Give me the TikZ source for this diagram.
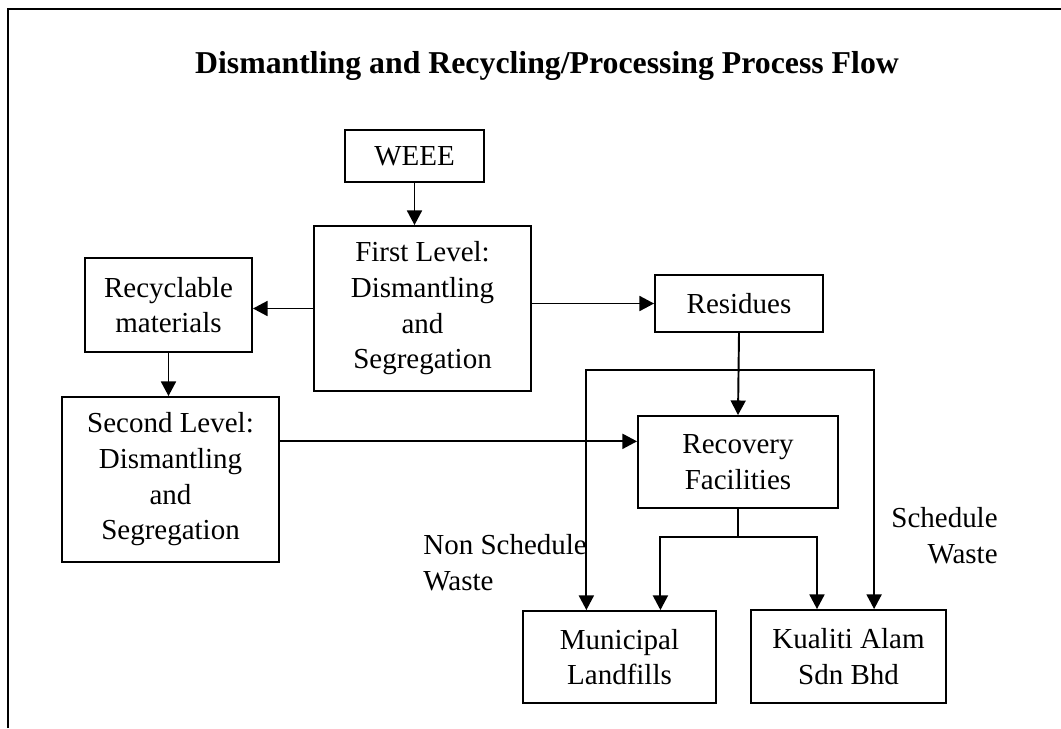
\documentclass[tikz,border=0pt]{standalone}
\usepackage{fontspec}
\setmainfont{Liberation Serif}
\usepackage{tikz}
\usetikzlibrary{arrows.meta,positioning,calc}
\tikzset{
  base/.style={font=\fontsize{16.5}{20.3}\selectfont, align=center, inner sep=0pt, text=black},
  box/.style={base, rectangle, draw=black, line width=1.1pt},
  lbl/.style={base, inner sep=0pt},
  ttl/.style={font=\bfseries\fontsize{18.1}{21}\selectfont, inner sep=0pt},
  arr/.style={-{Triangle[length=8.3pt,width=8.5pt]}, line width=1.1pt, draw=black},
  ln/.style={line width=1.1pt, draw=black},
}

\begin{document}
\begin{tikzpicture}[x=0.02cm,y=-0.02cm]
  \useasboundingbox (0,0) rectangle (1061,728);
  \draw[ln] (8,728) -- (8,9) -- (1061,9);
  \node[ttl,anchor=base] (title) at (547,73) {Dismantling and Recycling/Processing Process Flow};
  \node[box,minimum width=2.78cm,minimum height=1.04cm] (weee) at (414.5,156) {WEEE};
  \node[box,minimum width=4.34cm,minimum height=3.30cm] (first) at (422.5,308.5) {First Level:\\Dismantling\\and\\Segregation};
  \node[box,minimum width=3.34cm,minimum height=1.88cm] (recyc) at (168.5,305) {Recyclable\\materials};
  \node[box,minimum width=4.34cm,minimum height=3.30cm] (second) at (170.5,479.5) {Second Level:\\Dismantling\\and\\Segregation};
  \node[box,minimum width=3.36cm,minimum height=1.14cm] (resid) at (739,303.5) {Residues};
  \node[box,minimum width=4.00cm,minimum height=1.84cm] (recov) at (738,462) {Recovery\\Facilities};
  \node[box,minimum width=3.86cm,minimum height=1.84cm] (munic) at (619.5,657) {Municipal\\Landfills};
  \node[box,minimum width=3.90cm,minimum height=1.86cm] (kual) at (848.5,656.5) {Kualiti Alam\\Sdn Bhd};
  \node[lbl,anchor=north west,align=left] (nsw) at (423,534) {Non Schedule\\Waste};
  \node[lbl,anchor=north east,align=right] (sw) at (998,507) {Schedule\\Waste};
  \draw[arr] (weee.south) -- (weee.south |- first.north);
  \draw[arr] (first.west) -- (first.west -| recyc.east);
  \draw[arr] (recyc.south) -- (recyc.south |- second.north);
  \draw[arr] (resid.west -| first.east) -- (resid.west);
  \draw[arr] (resid.south) -- (recov.north);
  \coordinate (recin) at ($(recov.north west)!0.28!(recov.south west)$);
  \draw[arr] (second.east |- recin) -- (recin);
  \coordinate (split) at ($(resid.south)!0.45!(recov.north)$);
  \coordinate (mtopa) at ($(munic.north west)!0.33!(munic.north east)$);
  \coordinate (ktopb) at ($(kual.north west)!0.63!(kual.north east)$);
  \draw[arr] (split) -| (mtopa);
  \draw[arr] (split) -| (ktopb);
  \coordinate (fork) at ($(recov.south)!0.28!(recov.south |- munic.north)$);
  \coordinate (mtopb) at ($(munic.north west)!0.71!(munic.north east)$);
  \coordinate (ktopa) at ($(kual.north west)!0.34!(kual.north east)$);
  \draw[ln] (recov.south) -- (fork);
  \draw[arr] (fork) -| (mtopb);
  \draw[arr] (fork) -| (ktopa);
\end{tikzpicture}
\end{document}
